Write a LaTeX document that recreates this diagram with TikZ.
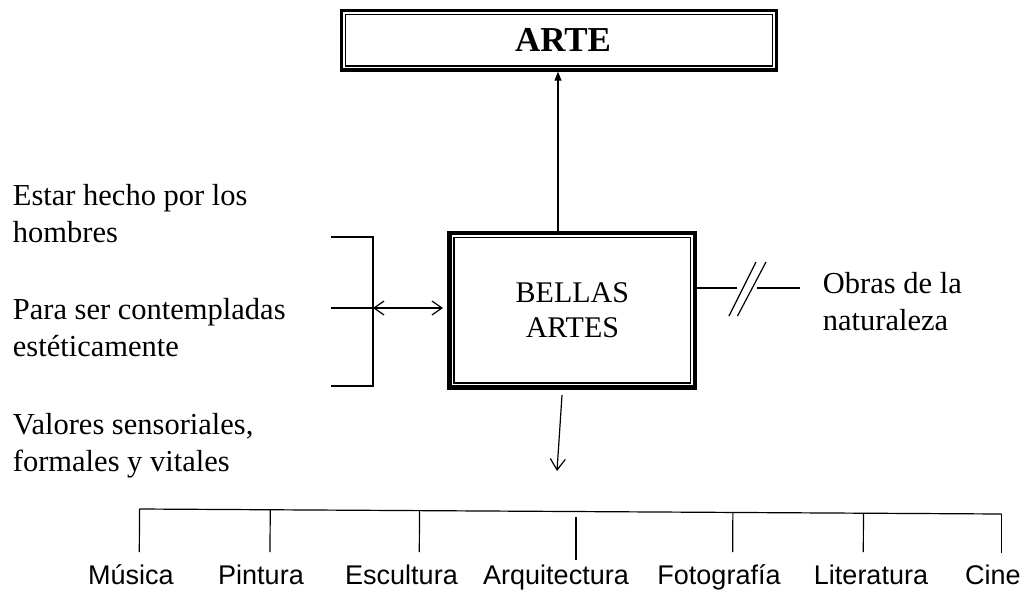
\documentclass[tikz,border=0pt]{standalone}
\usepackage{fontspec}
\setmainfont{Liberation Serif}
\newfontfamily\labelfont{Liberation Sans}
\usetikzlibrary{arrows.meta,calc}
\begin{document}
\begin{tikzpicture}[x=1pt,y=-1pt,
  txt/.style={font=\fontsize{30.5}{36}\selectfont, inner sep=0pt, anchor=base west},
  cat/.style={font=\labelfont\fontsize{27}{30}\selectfont, inner sep=0pt, text height=20pt, text depth=6pt, anchor=base},
  ln/.style={line width=1.2pt},
  bigbox/.style={draw, outer sep=0pt, inner sep=0pt, align=center},
]
\useasboundingbox (0,0) rectangle (1023,590);

% boxes
\node[bigbox, line width=3.4pt, minimum width=434.6pt, minimum height=59.3pt,
      font=\bfseries\fontsize{35}{40}\selectfont] (arte) at (559,40.3) {\hspace*{8pt}ARTE};
\draw[line width=1.5pt] ([shift={(4,4)}]arte.north west) rectangle ([shift={(-4,-4)}]arte.south east);

\node[bigbox, line width=4.3pt, minimum width=245.8pt, minimum height=154.7pt,
      font=\fontsize{30}{35.6}\selectfont] (bellas) at (572.4,310.2) {BELLAS\\ARTES};
\draw[line width=1.5pt] ([shift={(4.7,4.7)}]bellas.north west) rectangle ([shift={(-4.7,-4.7)}]bellas.south east);

% up arrow
\coordinate (upx) at (558,0);
\draw[ln, -{Triangle[length=9pt,width=7pt]}, shorten >=1.7pt] (upx |- bellas.north) -- (upx |- arte.south);

% down arrow
\coordinate (hub) at (557,471);
\draw[ln, -{Straight Barb[length=11pt,width=15pt]}] ([shift={(-10.4,7.5)}]bellas.south) -- (hub);

% left texts
\node[txt] (e1) at (12.7,205) {Estar hecho por los};
\node[txt] (e2) at (12.7,242) {hombres};
\node[txt] (p1) at (12.7,319) {Para ser contempladas};
\node[txt] (p2) at (12.7,356) {estéticamente};
\node[txt] (v1) at (12.7,434) {Valores sensoriales,};
\node[txt] (v2) at (12.7,471) {formales y vitales};

% bracket
\coordinate (bt) at (331,237);
\coordinate (bm) at (331,308);
\coordinate (bb) at (331,386);
\coordinate (bv) at (373,308);
\draw[ln] (bt) -- (bt -| bv) -- (bb -| bv) -- (bb);
\draw[ln] (bm) -- (bv);
\draw[ln, {Straight Barb[length=10pt,width=14pt]}-{Straight Barb[length=10pt,width=14pt]}, shorten >=6.5pt] (bv) -- (bv -| bellas.west);

% right side
\node[txt] (o1) at (822.7,293.3) {Obras de la};
\node[txt] (o2) at (822.7,330) {naturaleza};
\coordinate (rj) at (737,288);
\coordinate (rk) at (757,288);
\coordinate (rl) at (800,288);
\draw[ln] (bellas.east |- rj) -- (rj);
\draw[ln] (rk) -- (rl);
\coordinate (s1a) at (729,316); \coordinate (s1b) at (756,262);
\coordinate (s2a) at (737.5,316); \coordinate (s2b) at (766,262);
\draw[ln] (s1a) -- (s1b);
\draw[ln] (s2a) -- (s2b);

% horizontal line
\coordinate (hl) at (139.3,509);
\coordinate (hr) at (1001.5,514);
\draw[ln] (hl) -- (hr);

% labels
\node[cat] (mus) at (131,584) {Música};
\node[cat] (pin) at (261,584) {Pintura};
\node[cat] (esc) at (401.5,584) {Escultura};
\node[cat] (arq) at (556,584) {Arquitectura};
\node[cat] (fot) at (719,584) {Fotografía};
\node[cat] (lit) at (871,584) {Literatura};
\node[cat] (cin) at (993,584) {Cine};

% ticks
\foreach \x/\n in {139.3/1,270/2,419.3/3,732.7/5,863.3/6} {
  \coordinate (tb\n) at (\x,552);
  \draw[ln] ($(hl)!(tb\n)!(hr)$) -- (tb\n);
}
\coordinate (tb7) at (1001.5,553);
\draw[ln] (hr) -- (tb7);
\coordinate (ta4) at (576,517);
\coordinate (tb4) at (576,560);
\draw[ln] (ta4) -- (tb4);
\end{tikzpicture}
\end{document}
